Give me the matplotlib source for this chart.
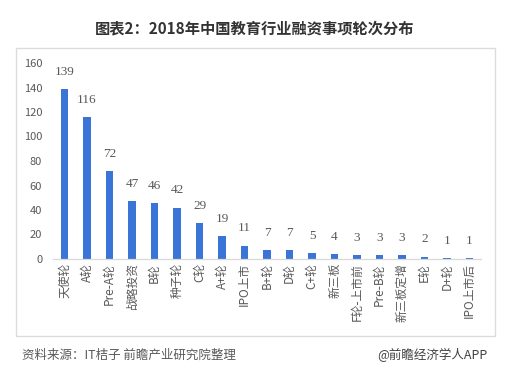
import numpy as np
import matplotlib
matplotlib.use('Agg')
from matplotlib import pyplot as plt
from matplotlib.patches import Rectangle

plt.rcParams['font.family'] = ['Noto Sans CJK SC', 'DejaVu Sans']

# data
rounds = ['天使轮', 'A轮', 'Pre-A轮', '战略投资', 'B轮', '种子轮', 'C轮', 'A+轮', 'IPO上市',
          'B+轮', 'D轮', 'C+轮', '新三板', 'F轮-上市前', 'Pre-B轮', '新三板定增', 'E轮',
          'D+轮', 'IPO上市后']
counts = [139, 116, 72, 47, 46, 42, 29, 19, 11, 7, 7, 5, 4, 3, 3, 3, 2, 1, 1]
y_ticks = [0, 20, 40, 60, 80, 100, 120, 140, 160]

W, H = 509, 373
fig = plt.figure(figsize=(W / 100, H / 100), dpi=100)
fig.patch.set_facecolor('white')

# outer light frame
fig.patches.append(Rectangle((16 / W, 1 - 336 / H), (495 - 16) / W, (336 - 48) / H,
                             transform=fig.transFigure, fill=False,
                             edgecolor='#dcdcdc', linewidth=1.0))

fig.text(0.5, 1 - 28 / H, '图表2：2018年中国教育行业融资事项轮次分布',
         ha='center', va='center', fontsize=11, fontweight='bold', color='#333333')

left, right = 53.25 / W, 480.75 / W
bottom, top = 1 - 259 / H, 1 - 63 / H
ax = fig.add_axes([left, bottom, right - left, top - bottom])

x = np.arange(len(rounds))
ax.bar(x, counts, width=0.34, color='#3a74d6', zorder=2)

for xi, v in zip(x, counts):
    ax.annotate(str(v), (xi, v), xytext=(0, 8), textcoords='offset points',
                ha='center', va='bottom', fontsize=9.5, color='#595959',
                family=['Liberation Serif', 'DejaVu Serif'], clip_on=False)

ax.set_xlim(-0.5, len(rounds) - 0.5)
ax.set_ylim(0, 160)
ax.set_yticks(y_ticks)
ax.tick_params(axis='y', length=0, labelsize=8, labelcolor='#595959', pad=8)
ax.set_xticks(x)
ax.set_xticklabels(rounds, rotation=90, fontsize=8.5, color='#595959',
                   fontweight='light')
ax.tick_params(axis='x', length=0, pad=3)

for side in ['top', 'right', 'left']:
    ax.spines[side].set_visible(False)
ax.spines['bottom'].set_color('#d9d9d9')
ax.spines['bottom'].set_linewidth(0.9)

fig.text(22 / W, 1 - 355 / H, '资料来源：IT桔子 前瞻产业研究院整理',
         ha='left', va='center', fontsize=9, style='italic', color='#595959')
fig.text(487 / W, 1 - 355 / H, '@前瞻经济学人APP',
         ha='right', va='center', fontsize=9, color='#404040')

fig.savefig('out.png', dpi=100)
